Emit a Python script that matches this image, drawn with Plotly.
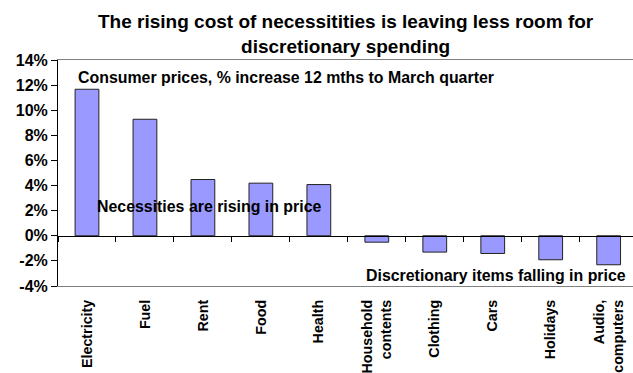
import plotly.graph_objects as go

categories = ["Electricity", "Fuel", "Rent", "Food", "Health",
              "Household<br>contents", "Clothing", "Cars", "Holidays",
              "Audio,<br>computers"]
values = [11.67, 9.28, 4.48, 4.19, 4.08, -0.51, -1.30, -1.41, -1.91, -2.31]
ytick_vals = [-4, -2, 0, 2, 4, 6, 8, 10, 12, 14]
ytick_text = ["-4%", "-2%", "0%", "2%", "4%", "6%", "8%", "10%", "12%", "14%"]

title_text = ("The rising cost of necessitities is leaving less room for<br>"
              "discretionary spending")
note_top = "Consumer prices, % increase 12 mths to March quarter"
note_mid = "Necessities are rising in price"
note_low = "Discretionary items falling in price"

FONT = "Liberation Sans, Arial, sans-serif"
xrange_ = [-0.5, 9.42]
yrange_ = [-4, 14]

fig = go.Figure()
fig.add_trace(go.Bar(
    x=categories, y=values, width=0.41,
    marker=dict(color="#9999FF", line=dict(color="#222222", width=1)),
    xaxis="x", yaxis="y", hoverinfo="skip",
))
# invisible trace to carry the zero-crossing category axis
fig.add_trace(go.Scatter(
    x=categories, y=[0] * len(categories), mode="markers",
    marker=dict(opacity=0), xaxis="x2", yaxis="y", hoverinfo="skip",
    showlegend=False,
))

fig.update_layout(
    width=633, height=373,
    margin=dict(l=58, r=0, t=60, b=87),
    paper_bgcolor="white", plot_bgcolor="white",
    showlegend=False,
    font=dict(family=FONT, color="black"),
    xaxis=dict(type="category", range=xrange_, showline=True,
               linecolor="#808080", linewidth=1, mirror=True,
               ticks="", showgrid=False, tickangle=-90,
               tickfont=dict(size=14.3, family=FONT, color="black"),
               ticklabelstandoff=7, automargin=False,
               tickprefix="<b>", ticksuffix="</b>"),
    xaxis2=dict(type="category", range=xrange_, overlaying="x",
                anchor="free", position=4 / 18, showline=True,
                linecolor="black", linewidth=1, ticks="outside",
                tickson="boundaries", ticklen=5, tickcolor="black",
                showticklabels=False, showgrid=False, side="bottom",
                automargin=False),
    yaxis=dict(range=yrange_, tickvals=ytick_vals,
               ticktext=["<b>" + t + "</b>" for t in ytick_text],
               showline=True, linecolor="black", linewidth=1,
               ticks="outside", ticklen=6, tickcolor="black",
               showgrid=False, zeroline=False, automargin=False,
               tickfont=dict(size=16, family=FONT, color="black")),
    annotations=[
        dict(text="<b>" + title_text + "</b>", xref="paper", yref="paper",
             x=0.5006, y=1.0, xanchor="center", yanchor="bottom",
             yshift=1, showarrow=False,
             font=dict(size=19, family=FONT, color="black")),
        dict(text="<b>" + note_top + "</b>", xref="paper", yref="paper",
             x=0.0318, y=0.922, xanchor="left", yanchor="middle",
             showarrow=False, font=dict(size=15.9, family=FONT)),
        dict(text="<b>" + note_mid + "</b>", xref="paper", yref="paper",
             x=0.0648, y=0.35, xanchor="left", yanchor="middle",
             showarrow=False, font=dict(size=15.9, family=FONT)),
        dict(text="<b>" + note_low + "</b>", xref="paper", yref="paper",
             x=0.532, y=0.045, xanchor="left", yanchor="middle",
             showarrow=False, font=dict(size=15.9, family=FONT)),
    ],
)

fig.write_html("out.html")
